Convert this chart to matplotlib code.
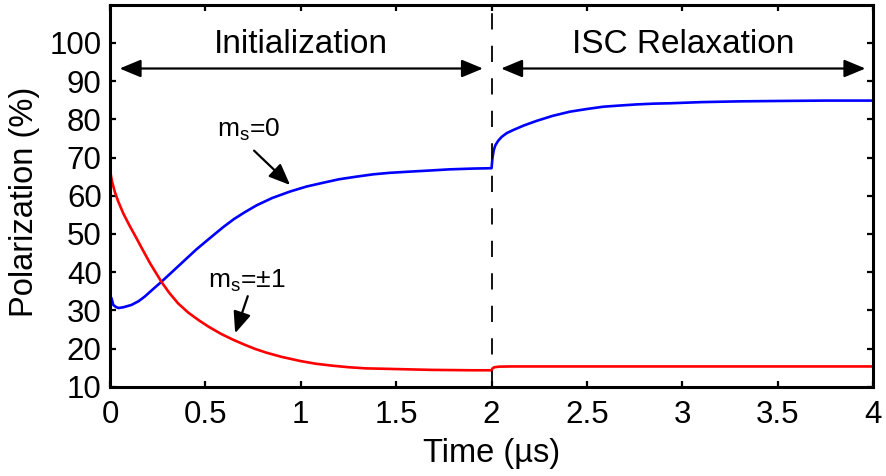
import matplotlib
matplotlib.use("Agg")
import matplotlib.pyplot as plt
from matplotlib.patches import ArrowStyle

plt.rcParams['font.family'] = ['Liberation Sans', 'DejaVu Sans']
plt.rcParams['mathtext.default'] = 'regular'

# m_s = 0 population, initialization phase (0 - 2 us)
t_ms0_init = [0, 0.008, 0.017, 0.03, 0.044, 0.07, 0.112, 0.15, 0.182, 0.22,
              0.27, 0.32, 0.374, 0.43, 0.454, 0.497, 0.55, 0.594, 0.65, 0.707,
              0.769, 0.85, 0.944, 1.03, 1.118, 1.2, 1.293, 1.38, 1.468, 1.57,
              1.678, 1.78, 1.9, 2.0]
p_ms0_init = [33.8, 33.1, 31.4, 30.9, 30.6, 30.8, 31.4, 32.4, 33.6, 35.3,
              37.5, 39.8, 42.3, 44.9, 46.0, 47.8, 50.0, 51.8, 53.9, 55.7,
              57.5, 59.4, 61.1, 62.4, 63.4, 64.3, 65.0, 65.6, 66.0, 66.3,
              66.6, 66.9, 67.1, 67.2]

# m_s = 0 population, ISC relaxation phase (2 - 4 us)
t_ms0_isc = [2.0, 2.005, 2.012, 2.02, 2.035, 2.053, 2.08, 2.114, 2.17, 2.237,
             2.32, 2.411, 2.5, 2.586, 2.67, 2.761, 2.85, 2.936, 3.1, 3.3,
             3.5, 3.75, 4.0]
p_ms0_isc = [67.2, 70.0, 72.0, 73.2, 74.4, 75.4, 76.4, 77.2, 78.4, 79.6,
             80.9, 82.0, 82.7, 83.3, 83.6, 83.9, 84.1, 84.2, 84.5, 84.7,
             84.8, 84.9, 84.9]

# m_s = +-1 population, initialization phase
t_ms1_init = [0, 0.01, 0.025, 0.042, 0.07, 0.104, 0.135, 0.165, 0.21, 0.27,
              0.31, 0.357, 0.41, 0.468, 0.52, 0.583, 0.645, 0.705, 0.76, 0.82,
              0.9, 1.0, 1.08, 1.166, 1.25, 1.34, 1.43, 1.515, 1.6, 1.69,
              1.8, 1.9, 2.0]
p_ms1_init = [66.6, 63.8, 61.0, 58.6, 55.3, 52.0, 49.2, 46.4, 42.3, 37.4,
              34.6, 31.8, 29.4, 27.3, 25.6, 23.8, 22.3, 21.0, 19.9, 18.9,
              17.8, 16.7, 16.0, 15.5, 15.1, 14.8, 14.7, 14.6, 14.5, 14.4,
              14.35, 14.3, 14.3]

# m_s = +-1 population, ISC relaxation phase
t_ms1_isc = [2.0, 2.005, 2.015, 2.04, 2.1, 3.0, 4.0]
p_ms1_isc = [14.3, 14.8, 15.1, 15.25, 15.3, 15.3, 15.3]

x_ticks = [0, 0.5, 1, 1.5, 2, 2.5, 3, 3.5, 4]
x_tick_labels = ['0', '0.5', '1', '1.5', '2', '2.5', '3', '3.5', '4']
y_ticks = [10, 20, 30, 40, 50, 60, 70, 80, 90, 100]

fig = plt.figure(figsize=(8.86, 4.76), dpi=100)
ax = fig.add_axes([0.1242, 0.1876, 0.8612, 0.8025])

ax.plot(t_ms0_init + t_ms0_isc[1:], p_ms0_init + p_ms0_isc[1:], color='#0000FF', lw=1.9)
ax.plot(t_ms1_init + t_ms1_isc[1:], p_ms1_init + p_ms1_isc[1:], color='#FF0000', lw=1.9)

ax.axvline(2, color='k', lw=1.3, linestyle=(0, (9, 9)))

ax.set_xlim(0, 4)
ax.set_ylim(10, 110)
ax.set_xticks(x_ticks)
ax.set_xticklabels(x_tick_labels)
ax.set_yticks(y_ticks)

for s in ax.spines.values():
    s.set_linewidth(2.2)
ax.tick_params(direction='in', length=4.5, width=1.6, top=True, right=True,
               labelsize=22.5)
ax.tick_params(axis='x', pad=9.5)
ax.tick_params(axis='y', pad=6)

ax.set_xlabel('Time (µs)', fontsize=23.5, va='baseline')
ax.xaxis.set_label_coords(0.5, -0.1963)
ax.set_ylabel('Polarization (%)', fontsize=23.5, va='center')
ax.yaxis.set_label_coords(-0.1127, 0.4846)

# phase labels with double arrows
head = ArrowStyle('<|-|>', head_length=0.65, head_width=0.27)
ax.text(1.0, 97.3, 'Initialization', fontsize=24, ha='center', va='baseline')
ax.annotate('', xy=(1.955, 93.3), xytext=(0.05, 93.3),
            arrowprops=dict(arrowstyle=head, mutation_scale=20, lw=1.6, color='k',
                            shrinkA=0, shrinkB=0))
ax.text(3.004, 97.3, 'ISC Relaxation', fontsize=24, ha='center', va='baseline')
ax.annotate('', xy=(3.96, 93.3), xytext=(2.05, 93.3),
            arrowprops=dict(arrowstyle=head, mutation_scale=20, lw=1.6, color='k',
                            shrinkA=0, shrinkB=0))

# curve labels
one_head = ArrowStyle('-|>', head_length=0.65, head_width=0.27)
ax.text(0.56, 75.4, '$m_s$=0', fontsize=19, ha='left', va='baseline')
ax.annotate('', xy=(0.944, 62.8), xytext=(0.755, 71.8),
            arrowprops=dict(arrowstyle=one_head, mutation_scale=20, lw=1.6, color='k',
                            shrinkA=0, shrinkB=0))
ax.text(0.516, 36.0, '$m_s$=±1', fontsize=19, ha='left', va='baseline')
ax.annotate('', xy=(0.656, 24.0), xytext=(0.722, 33.7),
            arrowprops=dict(arrowstyle=one_head, mutation_scale=20, lw=1.6, color='k',
                            shrinkA=0, shrinkB=0))

fig.savefig('out.png', dpi=100)
